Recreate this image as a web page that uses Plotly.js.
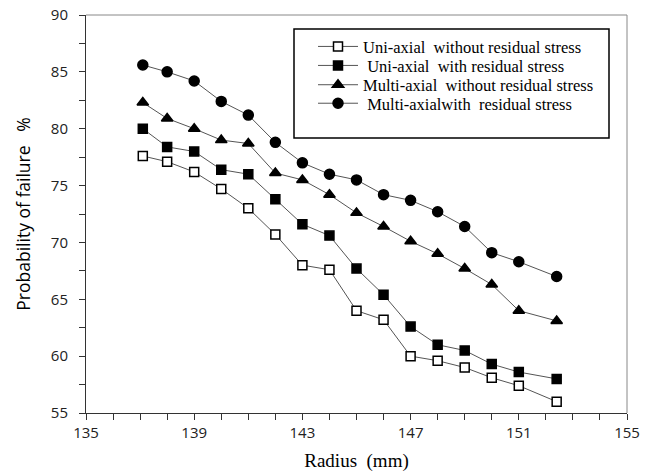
<!DOCTYPE html>
<html>
<head>
<meta charset="utf-8">
<script src="https://cdn.plot.ly/plotly-3.0.1.min.js"></script>
<style>html,body{margin:0;padding:0;background:#fff;}#chart{width:653px;height:476px;}</style>
</head>
<body>
<div id="chart"></div>
<script>
var radius = [137.1, 138, 139, 140, 141, 142, 143, 144, 145, 146, 147, 148, 149, 150, 151, 152.4];
var uniWithout = [77.6, 77.1, 76.2, 74.7, 73.0, 70.7, 68.0, 67.6, 64.0, 63.2, 60.0, 59.6, 59.0, 58.1, 57.4, 56.0];
var uniWith = [80.0, 78.4, 78.0, 76.4, 76.0, 73.8, 71.6, 70.6, 67.7, 65.4, 62.6, 61.0, 60.5, 59.3, 58.6, 58.0];
var multiWithout = [82.3, 80.9, 80.0, 79.0, 78.7, 76.1, 75.5, 74.2, 72.6, 71.4, 70.1, 69.0, 67.7, 66.3, 64.0, 63.1];
var multiWith = [85.6, 85.0, 84.2, 82.4, 81.2, 78.8, 77.0, 76.0, 75.5, 74.2, 73.7, 72.7, 71.4, 69.1, 68.3, 67.0];
var seriesNames = [
  "Uni-axial\u00a0 without residual stress",
  "\u00a0Uni-axial\u00a0 with residual stress",
  "Multi-axial\u00a0 without residual stress",
  "\u00a0Multi-axialwith\u00a0 residual stress"
];
var xTicks = [135, 139, 143, 147, 151, 155];
var yTicks = [55, 60, 65, 70, 75, 80, 85, 90];

var legendIds = ['legend', 'legend2', 'legend3', 'legend4'];
function mk(y, idx, symbol, size, fill) {
  return {
    x: radius, y: y, name: seriesNames[idx], type: 'scatter', mode: 'lines+markers',
    legend: legendIds[idx],
    line: {color: '#555555', width: 1},
    marker: {symbol: symbol, size: size, color: fill, line: {color: '#000', width: 1.5}}
  };
}
var traces = [
  mk(uniWithout, 0, 'square', 9, '#ffffff'),
  mk(uniWith, 1, 'square', 9, '#000000'),
  mk(multiWithout, 2, 'triangle-up', 10, '#000000'),
  mk(multiWith, 3, 'circle', 10, '#000000')
];

var W = 653, H = 476, L = 86, R = 26, T = 15, B = 63;
var pw = W - L - R, ph = H - T - B;
function px(x) { return (x - L) / pw; }
function py(y) { return (H - B - y) / ph; }

function leg(rowY) {
  return {
    x: px(313), y: py(rowY), xanchor: 'left', yanchor: 'middle',
    bgcolor: 'rgba(0,0,0,0)', borderwidth: 0,
    font: {family: 'Liberation Serif', size: 16.5, color: '#000'},
    itemwidth: 40
  };
}

var layout = {
  width: W, height: H,
  margin: {l: L, r: R, t: T, b: B, pad: 0},
  paper_bgcolor: '#fff', plot_bgcolor: '#fff',
  showlegend: true,
  legend: leg(46.7),
  legend2: leg(65.7),
  legend3: leg(85),
  legend4: leg(103.5),
  xaxis: {
    range: [135, 155], tickvals: xTicks, ticktext: xTicks.map(String),
    showgrid: false, zeroline: false, showline: true, linecolor: '#333', linewidth: 1,
    ticks: 'outside', ticklen: 6, tickcolor: '#333', tickwidth: 1,
    minor: {dtick: 1, tick0: 135, ticks: 'outside', ticklen: 6, tickcolor: '#333', tickwidth: 1, showgrid: false},
    tickfont: {family: 'Open Sans', size: 15, color: '#222'},
    title: {text: 'Radius\u00a0 (mm)', font: {family: 'Liberation Serif', size: 19, color: '#000'}, standoff: 12}
  },
  yaxis: {
    range: [55, 90], tickvals: yTicks, ticktext: yTicks.map(String),
    showgrid: false, zeroline: false, showline: true, linecolor: '#333', linewidth: 1,
    ticks: 'outside', ticklen: 6, tickcolor: '#333', tickwidth: 1,
    minor: {dtick: 2.5, tick0: 55, ticks: 'outside', ticklen: 6, tickcolor: '#333', tickwidth: 1, showgrid: false},
    tickfont: {family: 'Open Sans', size: 15, color: '#222'},
    ticklabelstandoff: 8,
    title: {text: 'Probability of failure\u00a0\u00a0 %', font: {family: 'Open Sans', size: 17.5, color: '#000'}, standoff: 15}
  },
  shapes: [
    {type: 'line', xref: 'paper', yref: 'paper', x0: 0, x1: 1, y0: 1, y1: 1, line: {color: '#888', width: 1}},
    {type: 'line', xref: 'paper', yref: 'paper', x0: 1, x1: 1, y0: 0, y1: 1, line: {color: '#888', width: 1}},
    {type: 'rect', xref: 'paper', yref: 'paper', x0: px(294), x1: px(609), y0: py(138), y1: py(29), line: {color: '#000', width: 1.5}, fillcolor: 'rgba(0,0,0,0)'}
  ]
};
Plotly.newPlot('chart', traces, layout, {displayModeBar: false, staticPlot: true});
</script>
</body>
</html>
